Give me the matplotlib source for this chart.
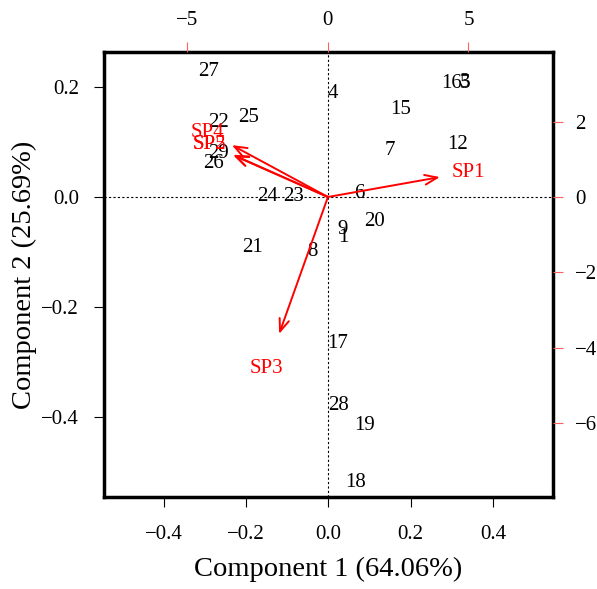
import numpy as np
import matplotlib.pyplot as plt

plt.rcParams['font.family'] = ['Liberation Serif', 'DejaVu Serif']

# sample scores (component 1, component 2)
labels = ['27', '4', '16', '5', '3', '15', '25', '22', '7', '12', '29', '26',
          '24', '23', '6', '20', '9', '1', '21', '8', '17', '28', '19', '18']
pc1 = [-0.291, 0.012, 0.298, 0.332, 0.333, 0.175, -0.194, -0.266, 0.150, 0.313, -0.266, -0.279,
       -0.148, -0.085, 0.075, 0.111, 0.034, 0.036, -0.184, -0.039, 0.022, 0.024, 0.089, 0.066]
pc2 = [0.229, 0.189, 0.207, 0.207, 0.208, 0.160, 0.144, 0.136, 0.085, 0.095, 0.080, 0.062,
       0.002, 0.001, 0.007, -0.044, -0.058, -0.073, -0.091, -0.098, -0.265, -0.378, -0.415, -0.518]

# variable loadings
var_names = ['SP1', 'SP2', 'SP3', 'SP4', 'SP5']
load1 = [4.98, -4.22, -2.17, -4.27, -4.20]
load2 = [0.66, 1.40, -4.54, 1.72, 1.38]

fig = plt.figure(figsize=(5.97, 5.89), dpi=100)
pos = [0.174, 0.156, 0.752, 0.756]
ax = fig.add_axes(pos)

ax.set_xlim(-0.545, 0.545)
ax.set_ylim(-0.545, 0.264)
for lab, x, y in zip(labels, pc1, pc2):
    ax.text(x, y, lab, ha='center', va='center', fontsize=15, color='black')

ax.set_xticks([-0.4, -0.2, 0.0, 0.2, 0.4])
ax.set_yticks([-0.4, -0.2, 0.0, 0.2])
ax.set_xticklabels(['\u22120.4', '\u22120.2', '0.0', '0.2', '0.4'])
ax.set_yticklabels(['\u22120.4', '\u22120.2', '0.0', '0.2'])
ax.tick_params(direction='out', length=7, width=0.8, labelsize=15)
ax.tick_params(axis='x', pad=13)
ax.tick_params(axis='y', pad=11)
ax.set_xlabel('Component 1 (64.06%)', fontsize=20.5, labelpad=9)
ax.set_ylabel('Component 2 (25.69%)', fontsize=20.5, labelpad=3)
for sp in ax.spines.values():
    sp.set_linewidth(2.5)

# loadings axes on top/right
ax2 = fig.add_axes(pos, frameon=False)
ax2.set_xlim(-7.97, 8.0)
ax2.set_ylim(-7.96, 3.85)
ax2.xaxis.tick_top()
ax2.yaxis.tick_right()
ax2.set_xticks([-5, 0, 5])
ax2.set_yticks([-6, -4, -2, 0, 2])
ax2.set_xticklabels(['\u22125', '0', '5'])
ax2.set_yticklabels(['\u22126', '\u22124', '\u22122', '0', '2'])
ax2.tick_params(direction='out', length=7, width=0.8, color='#ff6060',
                labelsize=15, pad=9)
ax2.patch.set_visible(False)

ax2.axhline(0, color='black', linestyle=(0, (2, 2)), linewidth=0.8, zorder=0)
ax2.axvline(0, color='black', linestyle=(0, (2, 2)), linewidth=0.8, zorder=0)

for name, lx, ly in zip(var_names, load1, load2):
    ax2.annotate('', xy=(0.8 * lx, 0.8 * ly), xytext=(0, 0),
                 arrowprops=dict(arrowstyle='->,head_length=0.9,head_width=0.35',
                                 color='red', lw=1.4, shrinkA=0, shrinkB=0))
    ax2.text(lx, ly, name, ha='center', va='center', fontsize=15, color='red')

fig.savefig('out.png', dpi=100)
